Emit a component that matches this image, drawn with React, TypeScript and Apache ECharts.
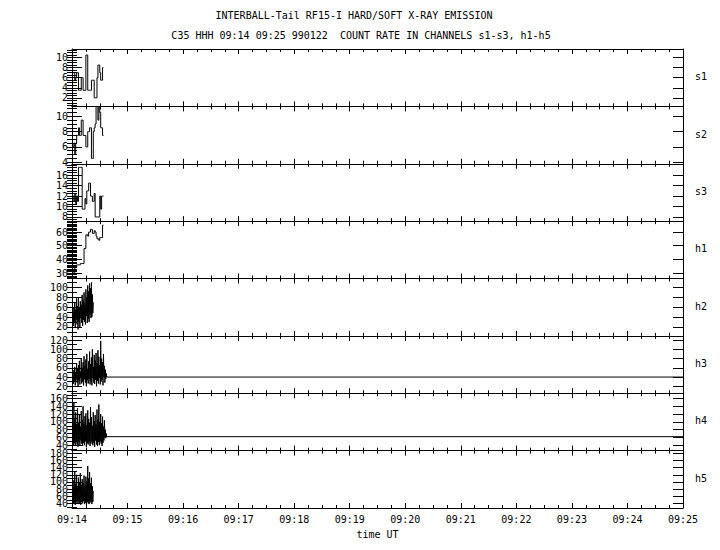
import React, { useEffect, useRef } from 'react';
import * as echarts from 'echarts';

// ---- text ----
const titleLine1 = 'INTERBALL-Tail RF15-I HARD/SOFT X-RAY EMISSION';
const titleLine2 = 'C35 HHH 09:14 09:25 990122 \u00a0COUNT RATE IN CHANNELS s1-s3, h1-h5';
const xAxisName = 'time UT';
const startHour = 9;
const startMinute = 14;

// ---- panels ----
const channels = ['s1', 's2', 's3', 'h1', 'h2', 'h3', 'h4', 'h5'];
const yMins = [0.3, 3.8, 7.2, 26, 2, 5, 26, 27];
const yMaxs = [11.7, 11.3, 18.2, 68, 118, 129, 174, 188];
const yTickLabels = [
  [2, 4, 6, 8, 10],
  [4, 6, 8, 10],
  [8, 10, 12, 14, 16],
  [30, 40, 50, 60],
  [20, 40, 60, 80, 100],
  [20, 40, 60, 80, 100, 120],
  [40, 60, 80, 100, 120, 140, 160],
  [40, 60, 80, 100, 120, 140, 160, 180],
];
const yMinorSteps = [0.5, 0.5, 0.5, 1, 10, 10, 10, 10];

// x range in seconds after 09:14:00
const xMin = 0;
const xMax = 660;

// ---- data (seconds after 09:14:00) ----
const sStart = 1;
const sStep = 1;
const s1 = [7, 7, 5.5, 6, 7, 7, 3.5, 3.5, 3.5, 6, 6, 3.5, 3.5, 3.5, 10.5, 10.5, 3.5, 3.5, 3.5, 3.5, 5.5, 5.5, 5.5, 2, 2, 2, 6, 8.5, 8.5, 7, 5.5, 5.5, 8];
const s2 = [6, 6.5, 5, 6.5, 7.5, 7.5, 8.5, 7.5, 7.5, 9.5, 9.5, 7.5, 7.5, 7.5, 6, 6, 8, 8, 8.5, 8.5, 4.5, 4.5, 8, 8.5, 9, 11.3, 11.3, 9.5, 11.3, 10.5, 8.5, 8.5, 7.5];
const s3 = [12, 11, 12.5, 10.5, 12, 11, 17.5, 17.5, 17.5, 17.5, 9.5, 9.5, 9.5, 11.5, 10.5, 13, 13, 14.5, 14.5, 12, 12, 11, 11, 12.5, 8, 8, 8, 8, 8, 12, 9.5, 12, 12];
const h1 = [30, 30, 34, 34, 36, 36, 36, 36, 37, 37, 37, 37, 48, 48, 58, 58, 57, 60, 60, 62, 62, 59, 59, 61, 60, 57, 55, 55, 54, 56, 56, 56, 65];

const hStart = 1;
const hStep = 0.5;
const h2 = [45, 22, 60, 30, 70, 18, 55, 35, 78, 25, 62, 15, 80, 30, 58, 20, 72, 40, 65, 28, 85, 22, 74, 34, 90, 30, 68, 25, 96, 42, 80, 28, 104, 36, 92, 30, 108, 45, 98, 38, 110, 40, 86, 48, 70];
const h3 = [40, 25, 55, 30, 62, 22, 48, 35, 70, 28, 58, 20, 66, 32, 75, 24, 52, 38, 80, 26, 60, 30, 72, 22, 85, 35, 64, 28, 78, 20, 90, 33, 58, 26, 74, 36, 95, 24, 68, 30, 82, 22, 100, 38, 62, 28, 88, 25, 76, 34, 92, 20, 70, 32, 98, 26, 84, 38, 66, 24, 118, 30, 80, 35, 72, 22, 90, 40, 64, 28, 56, 36, 48, 40];
const h4 = [90, 40, 150, 45, 110, 38, 125, 50, 95, 42, 135, 36, 100, 48, 118, 40, 88, 52, 128, 44, 105, 38, 140, 46, 96, 40, 115, 50, 122, 35, 92, 45, 130, 42, 108, 48, 98, 38, 138, 44, 112, 50, 90, 40, 125, 46, 102, 36, 118, 52, 94, 42, 132, 38, 106, 48, 145, 40, 100, 50, 120, 44, 96, 38, 114, 46, 88, 52, 104, 60, 80, 58, 70, 62];
const h5 = [80, 38, 105, 42, 130, 36, 95, 44, 120, 40, 88, 46, 112, 38, 100, 42, 125, 36, 92, 44, 108, 40, 98, 46, 118, 38, 90, 42, 115, 36, 102, 44, 145, 40, 110, 38, 128, 46, 96, 42, 112, 38, 88, 44, 75];

// flat tails (level held to end of interval)
const h3TailTimes = [38, 660];
const h3TailValues = [40, 40];
const h4TailTimes = [38, 660];
const h4TailValues = [62, 62];

const FONT = 'DejaVu Sans Mono';

function build(values: number[], start: number, step: number, tailT?: number[], tailV?: number[]) {
  const d: number[][] = values.map((v, k) => [start + k * step, v]);
  if (tailT && tailV) {
    tailT.forEach((t, k) => d.push([t, tailV[k]]));
  } else {
    d.push([start + values.length * step, values[values.length - 1]]);
  }
  return d;
}

const seriesData = [
  build(s1, sStart, sStep),
  build(s2, sStart, sStep),
  build(s3, sStart, sStep),
  build(h1, sStart, sStep),
  build(h2, hStart, hStep),
  build(h3, hStart, hStep, h3TailTimes, h3TailValues),
  build(h4, hStart, hStep, h4TailTimes, h4TailValues),
  build(h5, hStart, hStep),
];

function minorValues(min: number, max: number, step: number) {
  const out: number[] = [];
  const first = Math.ceil(min / step) * step;
  for (let v = first; v <= max + 1e-9; v += step) out.push(+v.toFixed(4));
  return out;
}

function timeLabel(v: number) {
  const total = startHour * 60 + startMinute + Math.round(v / 60);
  const hh = Math.floor(total / 60);
  const mm = total % 60;
  return String(hh).padStart(2, '0') + ':' + String(mm).padStart(2, '0');
}

export default function App() {
  const ref = useRef<HTMLDivElement>(null);
  useEffect(() => {
    if (!ref.current) return;
    const chart = echarts.init(ref.current, undefined, { renderer: 'svg' });
    const top0 = 49;
    const ph = 57.375;
    const black = { color: '#000', width: 1 };
    const n = channels.length;

    const grid = channels.map((_, i) => ({ left: 72, width: 611, top: top0 + i * ph, height: ph }));
    const xAxis: any[] = [];
    const yAxis: any[] = [];
    const series: any[] = [];
    const graphic: any[] = [];
    const labelStyle = {
      fontFamily: FONT, fontSize: 10, color: '#000', margin: 4,
      hideOverlap: false, showMinLabel: true, showMaxLabel: true,
    };

    channels.forEach((name, i) => {
      const last = i === n - 1;
      const xBase = {
        type: 'value', gridIndex: i, min: xMin, max: xMax, interval: 60,
        axisLine: { show: true, onZero: false, lineStyle: black },
        axisTick: { show: true, inside: true, length: 5, lineStyle: black },
        minorTick: { show: true, splitNumber: 4, length: 3, lineStyle: black },
        splitLine: { show: false }, minorSplitLine: { show: false },
      };
      xAxis.push({
        ...xBase, position: 'bottom',
        axisLabel: last
          ? { show: true, formatter: timeLabel, fontFamily: FONT, fontSize: 10, color: '#000', margin: 6, showMinLabel: true, showMaxLabel: true }
          : { show: false },
        name: last ? xAxisName : '', nameLocation: 'middle', nameGap: 21,
        nameTextStyle: { fontFamily: FONT, fontSize: 10, color: '#000' },
      });
      xAxis.push({ ...xBase, position: 'top', axisLabel: { show: false } });

      const min = yMins[i];
      const max = yMaxs[i];
      const majors = yTickLabels[i];
      const evenLabels = majors.filter((_, k) => k % 2 === 0);
      const oddLabels = majors.filter((_, k) => k % 2 === 1);
      const minors = minorValues(min, max, yMinorSteps[i]);
      const yBase = { type: 'value', gridIndex: i, min, max, splitLine: { show: false } };
      // 4*i: left axis line + major ticks + even labels (series axis)
      yAxis.push({
        ...yBase, position: 'left',
        axisLine: { show: true, onZero: false, lineStyle: black },
        axisTick: { show: true, inside: true, length: 10, customValues: majors, lineStyle: black },
        axisLabel: { show: true, customValues: evenLabels, ...labelStyle },
      });
      // left minor ticks + odd labels
      yAxis.push({
        ...yBase, position: 'left',
        axisLine: { show: false },
        axisTick: { show: true, inside: true, length: 5, customValues: minors, lineStyle: black },
        axisLabel: oddLabels.length ? { show: true, customValues: oddLabels, ...labelStyle } : { show: false },
      });
      yAxis.push({
        ...yBase, position: 'right',
        axisLine: { show: true, onZero: false, lineStyle: black },
        axisTick: { show: true, inside: true, length: 10, customValues: majors, lineStyle: black },
        axisLabel: { show: false },
      });
      yAxis.push({
        ...yBase, position: 'right',
        axisLine: { show: false },
        axisTick: { show: true, inside: true, length: 5, customValues: minors, lineStyle: black },
        axisLabel: { show: false },
      });

      series.push({
        type: 'line', name, xAxisIndex: 2 * i, yAxisIndex: 4 * i,
        data: seriesData[i], step: 'end', showSymbol: false, symbol: 'none',
        lineStyle: { color: '#000', width: 1 }, clip: true,
      });

      graphic.push({
        type: 'text', left: 695, top: top0 + i * ph + ph / 2 - 6,
        style: { text: name, fontFamily: FONT, fontSize: 10, fill: '#000' },
      });
    });

    graphic.push({
      type: 'text', x: 354, y: 15,
      style: { text: titleLine1, fontFamily: FONT, fontSize: 10, fill: '#000', align: 'center', verticalAlign: 'middle' },
    });
    graphic.push({
      type: 'text', x: 361, y: 35,
      style: { text: titleLine2, fontFamily: FONT, fontSize: 10, fill: '#000', align: 'center', verticalAlign: 'middle' },
    });

    chart.setOption({
      animation: false,
      backgroundColor: '#fff',
      grid, xAxis, yAxis, series, graphic,
    });
    return () => chart.dispose();
  }, []);
  return <div ref={ref} style={{ position: 'fixed', left: 0, top: 0, width: 720, height: 550, background: '#fff' }} />;
}
